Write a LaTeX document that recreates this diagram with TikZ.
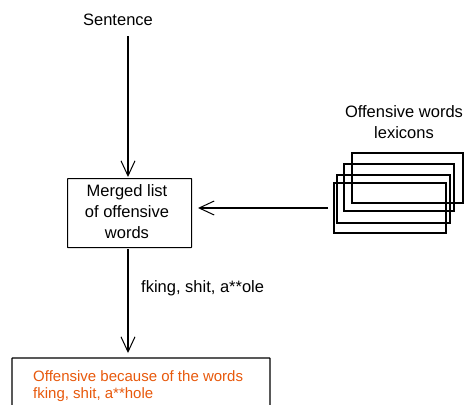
\documentclass[tikz,border=0pt]{standalone}
\usepackage{fontspec}
\setmainfont{Liberation Sans}
\usetikzlibrary{arrows.meta}
\definecolor{exorange}{HTML}{E8590C}
\begin{document}
\begin{tikzpicture}[x=1pt,y=-1pt,
  txt/.style={font=\fontsize{16.5}{21}\selectfont, inner sep=0pt, align=center},
  smalltxt/.style={font=\fontsize{15}{17}\selectfont, inner sep=0pt, align=left},
  boxed/.style={draw, line width=1.1pt, rounded corners=0.5pt},
  conn/.style={line width=1.1pt, -{Straight Barb[length=15pt,width=14pt,line width=1pt]}},
  lex/.style={draw, line width=1.1pt}]
\useasboundingbox (0,0) rectangle (467,405);
\fill[white] (0,0) rectangle (467,405);
\node[txt] (sentence) at (118,20) {Sentence};
\node[boxed, minimum width=124pt, minimum height=69pt, anchor=north west] (merged) at (67,178) {};
\node[txt] (mergedtext) at (127,212) {Merged list\\of offensive\\words};
\node[txt] (lextext) at (404,122) {Offensive words\\lexicons};
\draw[lex] (352,153) rectangle (463,203);
\draw[lex] (344,164) rectangle (454,211);
\draw[lex] (337,175) rectangle (450,223);
\draw[lex] (334,183) rectangle (446,233);
\coordinate (lexstart) at (328,208);
\coordinate (mergedin) at (198,208);
\coordinate (sentstart) at (128,36);
\coordinate (sentend) at (128,177);
\coordinate (mergedout) at (128,249);
\coordinate (resultin) at (128,353);
\node[txt, anchor=west] (label) at (141,288) {fking, shit, a**ole};
\draw[boxed] (12,358) rectangle (270,430);
\node[smalltxt, anchor=north west, text=exorange] (result) at (33,370) {Offensive because of the words\\fking, shit, a**hole};
\draw[conn] (sentstart) -- (sentend);
\draw[conn] (lexstart) -- (mergedin);
\draw[conn] (mergedout) -- (resultin);
\end{tikzpicture}
\end{document}
